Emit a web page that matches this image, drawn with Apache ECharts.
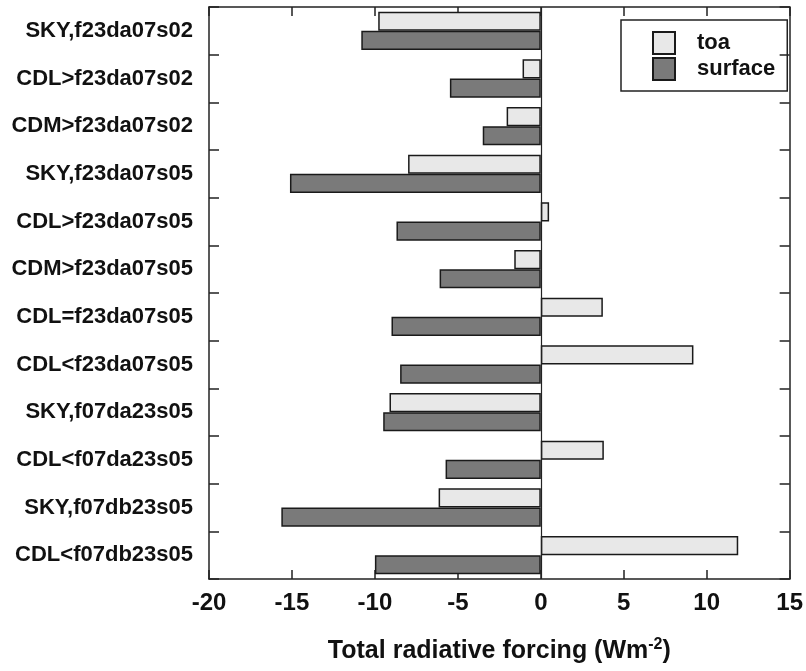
<!DOCTYPE html>
<html>
<head>
<meta charset="utf-8">
<script src="https://cdn.jsdelivr.net/npm/echarts@6/dist/echarts.min.js"></script>
<style>html,body{margin:0;padding:0;background:#fff;}#c{width:806px;height:671px;}</style>
</head>
<body>
<div id="c"></div>
<script>
const categories = ["SKY,f23da07s02","CDL>f23da07s02","CDM>f23da07s02","SKY,f23da07s05","CDL>f23da07s05","CDM>f23da07s05","CDL=f23da07s05","CDL<f23da07s05","SKY,f07da23s05","CDL<f07da23s05","SKY,f07db23s05","CDL<f07db23s05"];
const toa =     [-9.8, -1.1, -2.06, -8.0, 0.5, -1.6, 3.74, 9.2, -9.12, 3.8, -6.16, 11.9];
const surface = [-10.82, -5.48, -3.5, -15.12, -8.7, -6.1, -9.0, -8.48, -9.5, -5.74, -15.64, -10.0];
const xTicks = [-20, -15, -10, -5, 0, 5, 10, 15];

const FONT = '"Liberation Sans", Arial, sans-serif';
const chart = echarts.init(document.getElementById('c'), null, {renderer: 'canvas'});
const axisLine = {show: true, onZero: false, lineStyle: {color: '#222', width: 1.5}};
chart.setOption({
  animation: false,
  backgroundColor: '#fff',
  grid: {left: 209, right: 13, top: 7, bottom: 92, containLabel: false},
  legend: {
    orient: 'vertical',
    left: 621, top: 20,
    width: 165,
    padding: [11, 12, 10, 31],
    borderColor: '#222', borderWidth: 1.5,
    icon: 'rect',
    itemWidth: 22, itemHeight: 22, itemGap: 2,
    textStyle: {fontFamily: FONT, fontWeight: 'bold', fontSize: 22, color: '#111', padding: [0, 0, 0, 17]},
    data: ['toa', 'surface']
  },
  xAxis: [{
    type: 'value', min: xTicks[0], max: xTicks[xTicks.length - 1], interval: 5,
    axisLine: axisLine,
    axisTick: {show: true, inside: true, length: 9, lineStyle: {color: '#222', width: 1.5}},
    splitLine: {show: false},
    axisLabel: {fontFamily: FONT, fontWeight: 'bold', fontSize: 24, color: '#111', margin: 12},
    name: '{a|Total radiative forcing (Wm}{s|-2}{a|)}',
    nameLocation: 'middle', nameGap: 58,
    nameTextStyle: {
      rich: {
        a: {fontFamily: FONT, fontWeight: 'bold', fontSize: 25, color: '#111'},
        s: {fontFamily: FONT, fontWeight: 'bold', fontSize: 16, color: '#111', padding: [0, 0, 13, 0]}
      }
    }
  }, {
    type: 'value', position: 'top', min: xTicks[0], max: xTicks[xTicks.length - 1], interval: 5,
    axisLine: axisLine,
    axisTick: {show: true, inside: true, length: 9, lineStyle: {color: '#222', width: 1.5}},
    axisLabel: {show: false}, splitLine: {show: false}
  }],
  yAxis: [{
    type: 'category', data: categories, inverse: true, position: 'left',
    axisLine: axisLine,
    axisTick: {show: true, inside: true, length: 10, lineStyle: {color: '#222', width: 1.5}},
    axisLabel: {fontFamily: FONT, fontWeight: 'bold', fontSize: 22, color: '#111', margin: 16}
  }, {
    type: 'category', data: categories, inverse: true, position: 'right',
    axisLine: axisLine,
    axisTick: {show: true, inside: true, length: 10, lineStyle: {color: '#222', width: 1.5}},
    axisLabel: {show: false}
  }],
  series: [{
    name: 'toa', type: 'bar', data: toa,
    barGap: '0%', barCategoryGap: '19.5%',
    itemStyle: {color: '#e8e8e8', borderColor: '#1a1a1a', borderWidth: 1.5},
    markLine: {
      silent: true, symbol: 'none', label: {show: false},
      lineStyle: {color: '#222', width: 1.2, type: 'solid'},
      data: [{xAxis: 0}]
    }
  }, {
    name: 'surface', type: 'bar', data: surface,
    barGap: '0%', barCategoryGap: '19.5%',
    itemStyle: {color: '#7a7a7a', borderColor: '#1a1a1a', borderWidth: 1.5}
  }]
});
</script>
</body>
</html>
